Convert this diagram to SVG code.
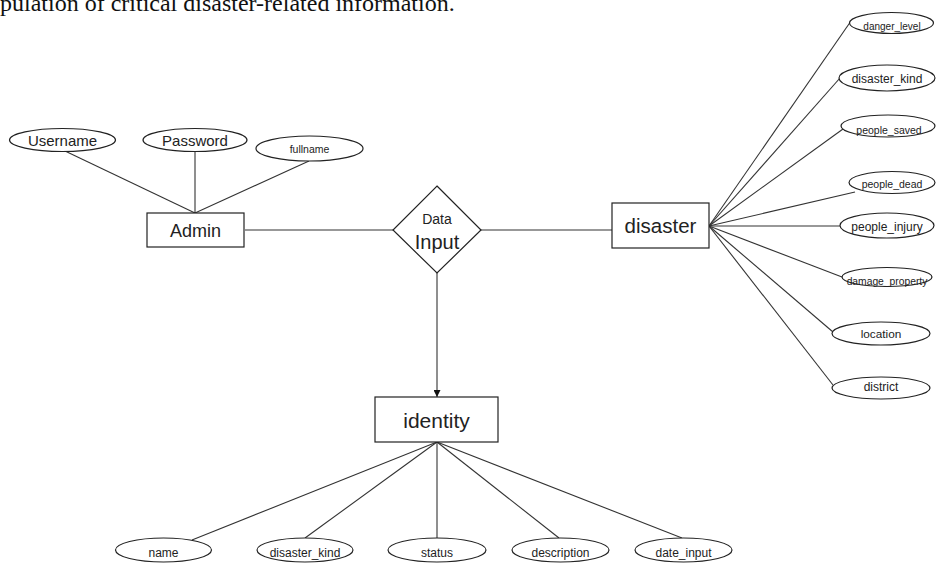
<svg xmlns="http://www.w3.org/2000/svg" width="936" height="563" viewBox="0 0 936 563">
<defs>
<style>
.shape{fill:#fff;stroke:#222;stroke-width:1.2}
.conn{fill:none;stroke:#333;stroke-width:1.1}
text{font-family:"Liberation Sans",Arial,sans-serif;fill:#222;text-anchor:middle;dominant-baseline:central}
.doc{font-family:"Liberation Serif","Times New Roman",serif;fill:#111;text-anchor:start;dominant-baseline:alphabetic;font-size:24px}
</style>
<marker id="arrow" viewBox="0 0 10 10" refX="10" refY="5" markerWidth="7" markerHeight="7" markerUnits="userSpaceOnUse" orient="auto">
<path d="M0,0 L10,5 L0,10 Z" fill="#111"/>
</marker>
</defs>
<rect width="936" height="563" fill="#fff"/>
<text class="doc" x="0" y="11">pulation of critical disaster-related information.</text>

<g id="connectors">
<line class="conn" x1="65" y1="151" x2="195" y2="213"/>
<line class="conn" x1="195" y1="152" x2="195" y2="213"/>
<line class="conn" x1="309" y1="161" x2="195" y2="213"/>
<line class="conn" x1="245" y1="230" x2="393" y2="230"/>
<line class="conn" x1="481" y1="230" x2="612" y2="230"/>
<line class="conn" x1="437" y1="273" x2="437" y2="397" marker-end="url(#arrow)"/>
<line class="conn" x1="709" y1="226" x2="851" y2="21"/>
<line class="conn" x1="709" y1="226" x2="840" y2="78"/>
<line class="conn" x1="709" y1="226" x2="843" y2="129"/>
<line class="conn" x1="709" y1="226" x2="855" y2="192"/>
<line class="conn" x1="709" y1="226" x2="840" y2="226"/>
<line class="conn" x1="709" y1="226" x2="842" y2="277"/>
<line class="conn" x1="709" y1="226" x2="833" y2="332"/>
<line class="conn" x1="709" y1="226" x2="833" y2="385"/>
<line class="conn" x1="437" y1="442" x2="192" y2="540"/>
<line class="conn" x1="437" y1="442" x2="305" y2="538"/>
<line class="conn" x1="437" y1="442" x2="437" y2="538"/>
<line class="conn" x1="437" y1="442" x2="559" y2="538"/>
<line class="conn" x1="437" y1="442" x2="682" y2="538"/>
</g>

<g id="admin"><rect class="shape" x="147" y="213" width="97" height="34"/><text x="195.5" y="231" font-size="18">Admin</text></g>
<g id="username"><ellipse class="shape" cx="62.5" cy="140" rx="53" ry="11.5"/><text x="62.5" y="140" font-size="15">Username</text></g>
<g id="password"><ellipse class="shape" cx="195" cy="140" rx="52" ry="11.5"/><text x="195" y="140" font-size="15">Password</text></g>
<g id="fullname"><ellipse class="shape" cx="309.5" cy="148.5" rx="53.5" ry="12.5"/><text x="309.5" y="149" font-size="10.5">fullname</text></g>

<g id="data-input"><polygon class="shape" points="437,186 481,230 437,273 393,230"/><text x="437" y="219" font-size="14">Data</text><text x="437" y="242" font-size="20">Input</text></g>

<g id="disaster"><rect class="shape" x="612" y="203" width="97" height="45"/><text x="660.5" y="225" font-size="20.5">disaster</text></g>

<g id="danger_level"><ellipse class="shape" cx="891.5" cy="23" rx="42" ry="10.5"/><text x="892" y="26" font-size="10">danger_level</text></g>
<g id="disaster_kind_r"><ellipse class="shape" cx="887" cy="78" rx="48" ry="13"/><text x="887" y="79" font-size="12">disaster_kind</text></g>
<g id="people_saved"><ellipse class="shape" cx="888" cy="126" rx="47" ry="11"/><text x="889" y="130" font-size="10.5">people_saved</text></g>
<g id="people_dead"><ellipse class="shape" cx="892" cy="182.5" rx="43" ry="11"/><text x="892" y="184" font-size="10.5">people_dead</text></g>
<g id="people_injury"><ellipse class="shape" cx="887" cy="225.5" rx="47" ry="12.5"/><text x="887" y="227" font-size="12">people_injury</text></g>
<g id="damage_property"><ellipse class="shape" cx="887" cy="277" rx="45" ry="9.5"/><text x="887" y="281" font-size="10.3">damage_property</text></g>
<g id="location"><ellipse class="shape" cx="881" cy="333.5" rx="49" ry="11.5"/><text x="881" y="334" font-size="11.8">location</text></g>
<g id="district"><ellipse class="shape" cx="881" cy="388" rx="49" ry="11"/><text x="881" y="387" font-size="12">district</text></g>

<g id="identity"><rect class="shape" x="375" y="397" width="123" height="45"/><text x="436.5" y="420" font-size="21">identity</text></g>

<g id="name"><ellipse class="shape" cx="163.5" cy="550" rx="48" ry="12"/><text x="163.5" y="553" font-size="12">name</text></g>
<g id="disaster_kind_b"><ellipse class="shape" cx="305" cy="550" rx="48" ry="12"/><text x="305" y="553" font-size="12">disaster_kind</text></g>
<g id="status"><ellipse class="shape" cx="437" cy="550" rx="49" ry="12"/><text x="437" y="553" font-size="12">status</text></g>
<g id="description"><ellipse class="shape" cx="560.5" cy="550" rx="48.5" ry="12"/><text x="560.5" y="553" font-size="12">description</text></g>
<g id="date_input"><ellipse class="shape" cx="683.5" cy="550" rx="48.5" ry="12"/><text x="683.5" y="553" font-size="12">date_input</text></g>
</svg>
